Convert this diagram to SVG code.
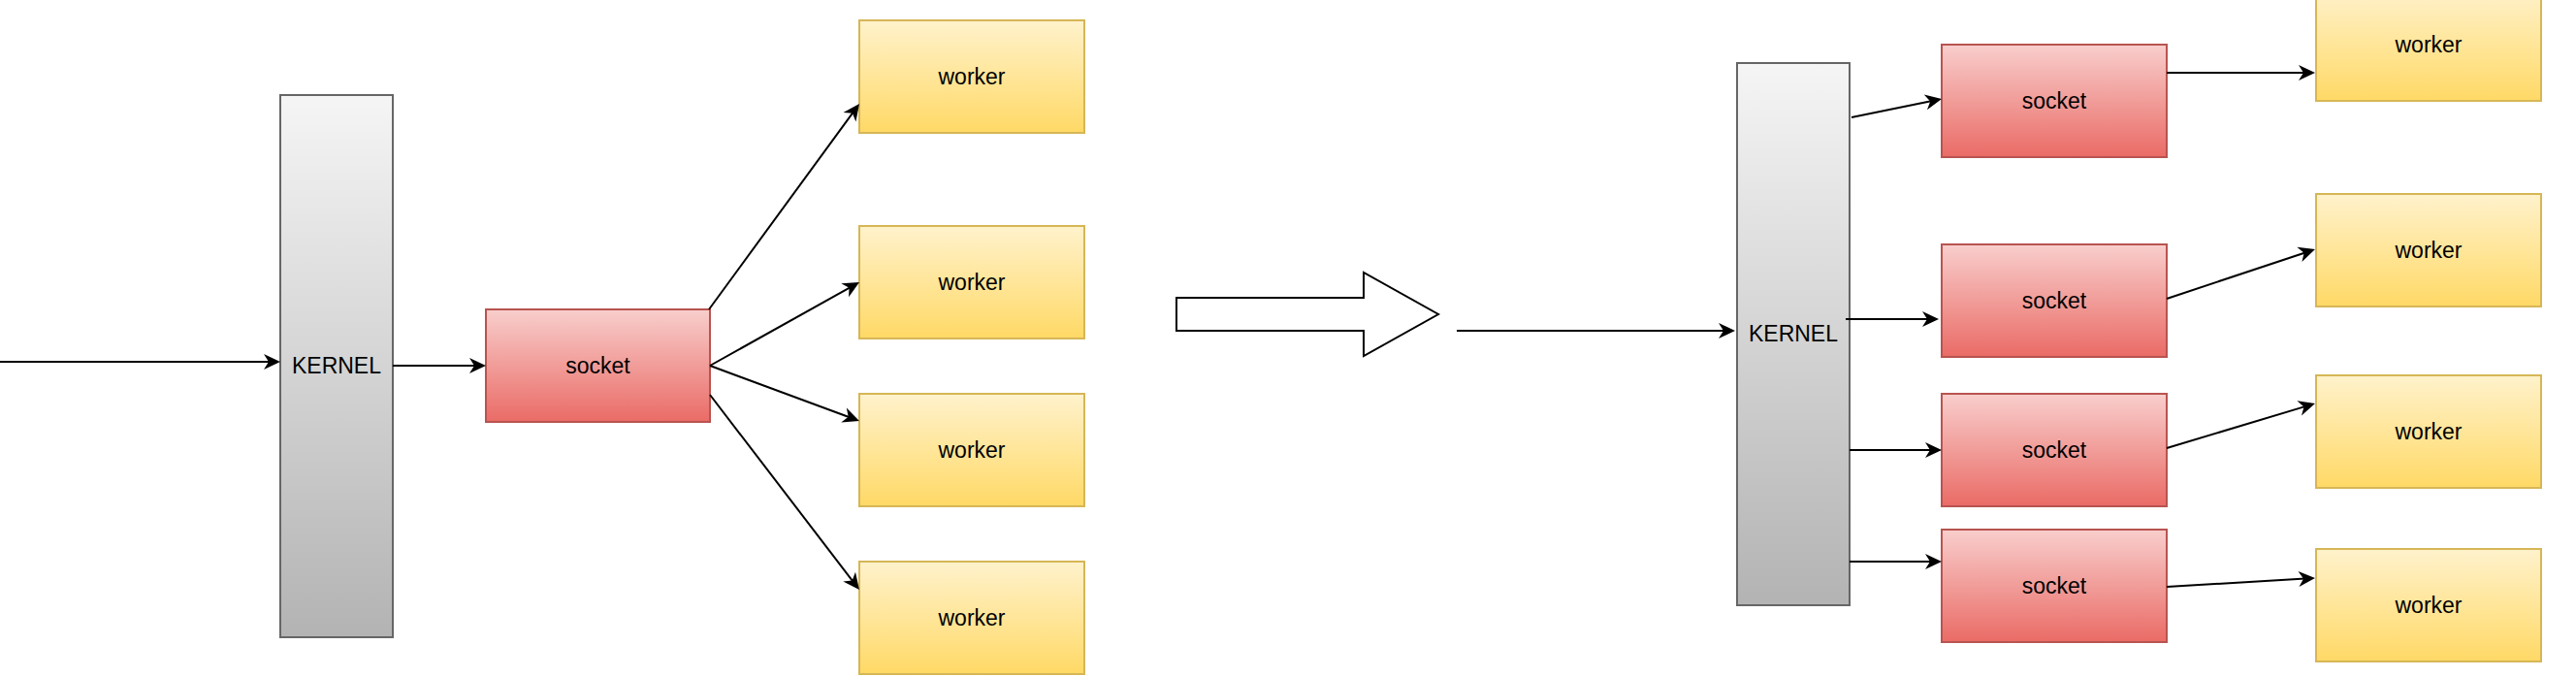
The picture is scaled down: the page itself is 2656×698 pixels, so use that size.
<svg xmlns="http://www.w3.org/2000/svg" width="2656" height="698" viewBox="0 0 2656 698">
  <defs>
    <linearGradient id="gKernel" x1="0" y1="0" x2="0" y2="1">
      <stop offset="0" stop-color="#f5f5f5"/>
      <stop offset="1" stop-color="#b3b3b3"/>
    </linearGradient>
    <linearGradient id="gSocket" x1="0" y1="0" x2="0" y2="1">
      <stop offset="0" stop-color="#f8cecc"/>
      <stop offset="1" stop-color="#ea6b66"/>
    </linearGradient>
    <linearGradient id="gWorker" x1="0" y1="0" x2="0" y2="1">
      <stop offset="0" stop-color="#fff2cc"/>
      <stop offset="1" stop-color="#ffd966"/>
    </linearGradient>
    <marker id="arrow" viewBox="-18 -9 19 18" markerWidth="19" markerHeight="18" refX="-10" refY="0" orient="auto" markerUnits="userSpaceOnUse">
      <path d="M0,0 L-17,-8 L-12,0 L-17,8 Z" fill="#000"/>
    </marker>
  </defs>
  <style>
    .kernel { fill: url(#gKernel); stroke: #666666; stroke-width: 2; }
    .socket { fill: url(#gSocket); stroke: #b85450; stroke-width: 2; }
    .worker { fill: url(#gWorker); stroke: #d6b656; stroke-width: 2; }
    .label { font-family: "Liberation Sans", Arial, Helvetica, sans-serif; font-size: 23px; fill: #000; text-anchor: middle; }
    .edge { fill: none; stroke: #000; stroke-width: 2; marker-end: url(#arrow); }
    .bigarrow { fill: #fff; stroke: #000; stroke-width: 2; }
  </style>
  <rect width="2656" height="698" fill="#fff"/>

  <!-- Left side -->
  <g id="kernel-left">
    <rect class="kernel" x="289" y="98" width="116" height="559"/>
    <text class="label" x="347" y="385">KERNEL</text>
  </g>
  <g id="socket-left">
    <rect class="socket" x="501" y="319" width="231" height="116"/>
    <text class="label" x="616.5" y="385">socket</text>
  </g>
  <g id="worker-l1">
    <rect class="worker" x="886" y="21" width="232" height="116"/>
    <text class="label" x="1002" y="87">worker</text>
  </g>
  <g id="worker-l2">
    <rect class="worker" x="886" y="233" width="232" height="116"/>
    <text class="label" x="1002" y="299">worker</text>
  </g>
  <g id="worker-l3">
    <rect class="worker" x="886" y="406" width="232" height="116"/>
    <text class="label" x="1002" y="472">worker</text>
  </g>
  <g id="worker-l4">
    <rect class="worker" x="886" y="579" width="232" height="116"/>
    <text class="label" x="1002" y="645">worker</text>
  </g>

  <!-- Transition arrow -->
  <g id="transition-arrow">
    <polygon class="bigarrow" points="1213,307 1406,307 1406,281 1483,324 1406,367 1406,341 1213,341"/>
  </g>

  <!-- Right side -->
  <g id="kernel-right">
    <rect class="kernel" x="1791" y="65" width="116" height="559"/>
    <text class="label" x="1849" y="352">KERNEL</text>
  </g>
  <g id="socket-r1">
    <rect class="socket" x="2002" y="46" width="232" height="116"/>
    <text class="label" x="2118" y="112">socket</text>
  </g>
  <g id="socket-r2">
    <rect class="socket" x="2002" y="252" width="232" height="116"/>
    <text class="label" x="2118" y="318">socket</text>
  </g>
  <g id="socket-r3">
    <rect class="socket" x="2002" y="406" width="232" height="116"/>
    <text class="label" x="2118" y="472">socket</text>
  </g>
  <g id="socket-r4">
    <rect class="socket" x="2002" y="546" width="232" height="116"/>
    <text class="label" x="2118" y="612">socket</text>
  </g>
  <g id="worker-r1">
    <rect class="worker" x="2388" y="-12" width="232" height="116"/>
    <text class="label" x="2504" y="54">worker</text>
  </g>
  <g id="worker-r2">
    <rect class="worker" x="2388" y="200" width="232" height="116"/>
    <text class="label" x="2504" y="266">worker</text>
  </g>
  <g id="worker-r3">
    <rect class="worker" x="2388" y="387" width="232" height="116"/>
    <text class="label" x="2504" y="453">worker</text>
  </g>
  <g id="worker-r4">
    <rect class="worker" x="2388" y="566" width="232" height="116"/>
    <text class="label" x="2504" y="632">worker</text>
  </g>

  <!-- Connectors -->
  <g id="connectors">
    <line class="edge" x1="0" y1="373" x2="279" y2="373"/>
    <line class="edge" x1="405" y1="377" x2="491" y2="377"/>
    <line class="edge" x1="731" y1="319" x2="880.1" y2="115.1"/>
    <line class="edge" x1="732" y1="377" x2="877.3" y2="295.9"/>
    <line class="edge" x1="732" y1="377" x2="876.6" y2="430.5"/>
    <line class="edge" x1="732" y1="407" x2="879.9" y2="600.1"/>

    <line class="edge" x1="1502" y1="341" x2="1779" y2="341"/>
    <line class="edge" x1="1909" y1="121" x2="1992.2" y2="104"/>
    <line class="edge" x1="1903" y1="329" x2="1989" y2="329"/>
    <line class="edge" x1="1907" y1="464" x2="1992" y2="464"/>
    <line class="edge" x1="1907" y1="579" x2="1992" y2="579"/>
    <line class="edge" x1="2234" y1="75" x2="2377" y2="75"/>
    <line class="edge" x1="2234" y1="308" x2="2377.5" y2="260.2"/>
    <line class="edge" x1="2234" y1="462" x2="2377.4" y2="418.9"/>
    <line class="edge" x1="2234" y1="605" x2="2377" y2="596.6"/>
  </g>
</svg>
